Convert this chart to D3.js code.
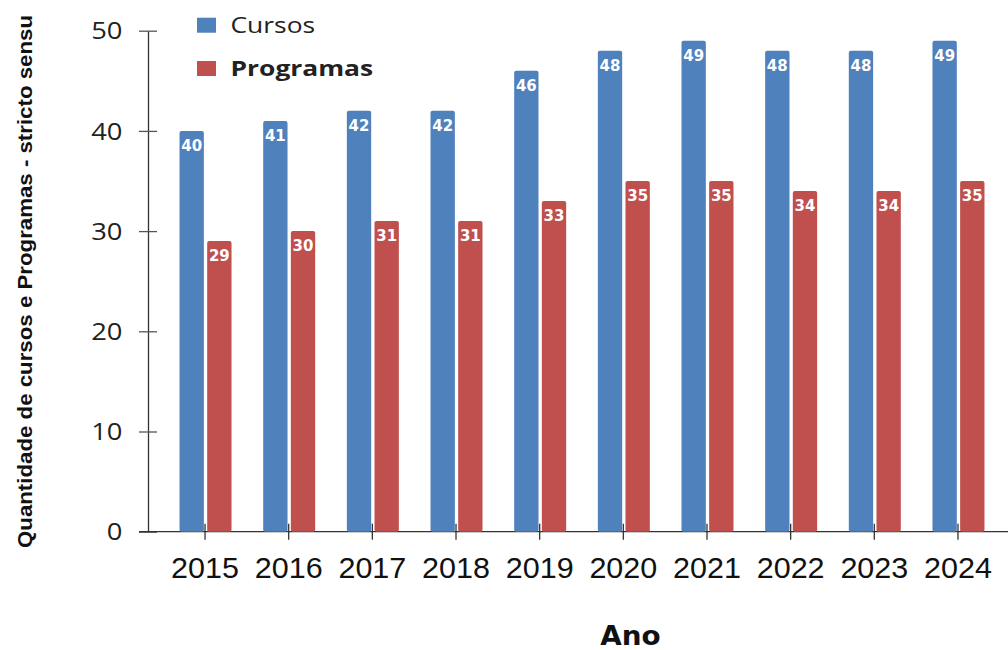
<!DOCTYPE html>
<html>
<head>
<meta charset="utf-8">
<script src="https://cdn.jsdelivr.net/npm/d3@7"></script>
<style>
  body { margin: 0; background: #fff; }
  svg { display: block; }
</style>
</head>
<body>
<div id="chart"></div>
<script>
// data
var anos = ["2015", "2016", "2017", "2018", "2019", "2020", "2021", "2022", "2023", "2024"];
var cursos = [40, 41, 42, 42, 46, 48, 49, 48, 48, 49];
var programas = [29, 30, 31, 31, 33, 35, 35, 34, 34, 35];
var series = ["Cursos", "Programas"];
var yTicks = [0, 10, 20, 30, 40, 50];

var width = 1008, height = 650;
var colors = { Cursos: "#4f81bd", Programas: "#c0504d" };

var svg = d3.select("#chart")
  .append("svg")
  .attr("width", width)
  .attr("height", height);

// scales
var y = d3.scaleLinear().domain([0, 50]).range([531.7, 30.7]);
var x0 = d3.scaleBand().domain(anos).range([163.2, 999.8]).padding(0);
var x1 = d3.scaleBand().domain(series).range([0, 52]).paddingInner(0.12);

// y axis
var yAxis = svg.append("g")
  .attr("transform", "translate(148,0)")
  .call(d3.axisLeft(y).tickValues(yTicks).tickSizeInner(9).tickSizeOuter(0).tickPadding(16));
yAxis.select(".domain").attr("stroke", "#333").attr("stroke-width", 1.3);
yAxis.selectAll(".tick line").attr("x2", 9).attr("x1", -9).attr("stroke", "#555").attr("stroke-width", 1.3);
yAxis.selectAll(".tick text")
  .attr("x", 0)
  .attr("transform", "translate(-25.5,0) scale(1.19,1)")
  .attr("font-family", "'Open Sans', sans-serif")
  .attr("font-size", 23)
  .attr("fill", "#222")
  .attr("dy", "0.36em");

// x axis
var xAxis = svg.append("g")
  .attr("transform", "translate(0," + y(0) + ")")
  .call(d3.axisBottom(x0).tickSizeInner(8).tickSizeOuter(0).tickPadding(18));
xAxis.select(".domain").attr("d", "M139,0H1008").attr("stroke", "#333").attr("stroke-width", 1.3);
xAxis.selectAll(".tick line").attr("y1", -8).attr("y2", 8).attr("stroke", "#333").attr("stroke-width", 1.3);
xAxis.selectAll(".tick text")
  .attr("transform", "scale(1.06,1)")
  .attr("font-family", "'Liberation Sans', Arial, sans-serif")
  .attr("font-size", 28.8)
  .attr("fill", "#111");

// bars
var rows = anos.map(function (a, i) {
  return { ano: a, Cursos: cursos[i], Programas: programas[i] };
});

var groups = svg.append("g")
  .selectAll("g")
  .data(rows)
  .enter()
  .append("g")
  .attr("transform", function (d) {
    return "translate(" + (x0(d.ano) + x0.bandwidth() / 2 - 26 + 0.5) + ",0)";
  });

var bars = groups.selectAll("g")
  .data(function (d) {
    return series.map(function (s) { return { key: s, value: d[s] }; });
  })
  .enter()
  .append("g");

bars.append("rect")
  .attr("x", function (d) { return x1(d.key); })
  .attr("y", function (d) { return y(d.value); })
  .attr("width", x1.bandwidth())
  .attr("height", function (d) { return y(0) - y(d.value); })
  .attr("rx", 2)
  .attr("fill", function (d) { return colors[d.key]; });

bars.append("text")
  .attr("x", function (d) { return x1(d.key) + x1.bandwidth() / 2; })
  .attr("y", function (d) { return y(d.value) + 20; })
  .attr("text-anchor", "middle")
  .attr("font-family", "'DejaVu Sans', sans-serif")
  .attr("font-weight", "bold")
  .attr("font-size", 15)
  .attr("fill", "#fff")
  .text(function (d) { return d.value; });

// legend
var legend = svg.append("g");
series.forEach(function (s, i) {
  legend.append("rect")
    .attr("x", 197)
    .attr("y", 17.7 + i * 43.3)
    .attr("width", 19)
    .attr("height", 15)
    .attr("fill", colors[s]);
  legend.append("text")
    .attr("transform", "translate(230.5," + (33.3 + i * 42.7) + ") scale(1.2,1)")
    .attr("font-family", "'Open Sans', sans-serif")
    .attr("font-size", 22)
    .attr("font-weight", i == 1 ? "bold" : "normal")
    .attr("fill", "#222")
    .text(s);
});

// axis titles
svg.append("text")
  .attr("transform", "translate(630.5,645) scale(1.07,1)")
  .attr("text-anchor", "middle")
  .attr("font-family", "'DejaVu Sans', Verdana, sans-serif")
  .attr("font-weight", "bold")
  .attr("font-size", 26)
  .attr("fill", "#111")
  .text("Ano");

svg.append("text")
  .attr("transform", "translate(32,281.5) rotate(-90)")
  .attr("text-anchor", "middle")
  .attr("font-family", "'Liberation Sans', Arial, sans-serif")
  .attr("font-weight", "bold")
  .attr("font-size", 21)
  .attr("textLength", 533)
  .attr("lengthAdjust", "spacingAndGlyphs")
  .attr("fill", "#111")
  .text("Quantidade de cursos e Programas - stricto sensu");
</script>
</body>
</html>
